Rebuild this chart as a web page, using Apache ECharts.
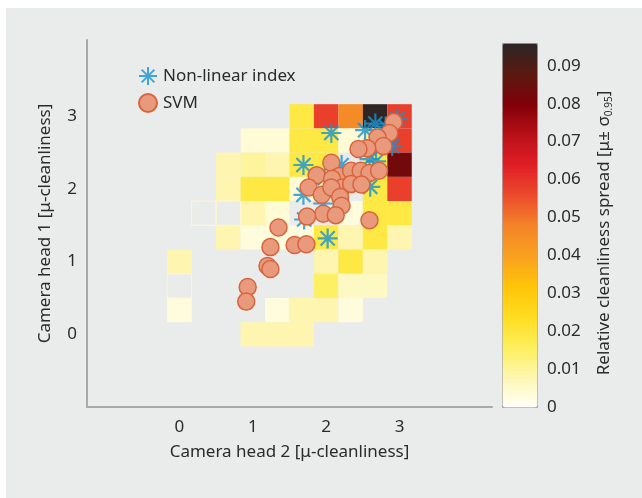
<!DOCTYPE html>
<html>
<head>
<meta charset="utf-8">
<script src="https://cdn.jsdelivr.net/npm/echarts@6/dist/echarts.min.js"></script>
<style>
  html, body { margin: 0; padding: 0; background: #fff; }
  #chart { width: 642px; height: 498px; }
</style>
</head>
<body>
<div id="chart"></div>
<script>
  // heatmap bins are 1/3 wide, centred on multiples of 1/3
  var binSize = 1 / 3;
  var colCentres = [0, 1 / 3, 2 / 3, 1, 4 / 3, 5 / 3, 2, 7 / 3, 8 / 3, 3];
  var rowCentres = [3, 8 / 3, 7 / 3, 2, 5 / 3, 4 / 3, 1, 2 / 3, 1 / 3, 0];

  // relative cleanliness spread per bin, one array per row (top to bottom), null = no data
  var spreadRow300 = [null, null, null, null, null, 0.019, 0.058, 0.046, 0.095, 0.058];
  var spreadRow267 = [null, null, null, 0.004, 0.004, 0.019, 0.019, 0.004, 0.010, 0.058];
  var spreadRow233 = [null, null, 0.008, 0.010, 0.008, 0.019, 0.019, null, 0.019, 0.083];
  var spreadRow200 = [null, null, 0.008, 0.019, 0.019, 0.004, 0.008, null, 0.019, 0.058];
  var spreadRow167 = [null, null, null, 0.008, 0.004, null, null, 0.003, 0.019, 0.019];
  var spreadRow133 = [null, null, 0.008, 0.003, 0.003, 0.003, 0.019, 0.008, 0.019, 0.008];
  var spreadRow100 = [0.008, null, null, null, null, null, 0.008, 0.019, 0.008, null];
  var spreadRow067 = [null, null, null, null, null, null, 0.015, 0.006, 0.006, null];
  var spreadRow033 = [0.003, null, null, null, 0.003, 0.008, 0.008, 0.003, null, null];
  var spreadRow000 = [null, null, null, 0.008, 0.008, 0.008, null, null, null, null];
  var spreadRows = [spreadRow300, spreadRow267, spreadRow233, spreadRow200, spreadRow167,
                    spreadRow133, spreadRow100, spreadRow067, spreadRow033, spreadRow000];

  // bins drawn only as an outline
  var blankCellX = [1 / 3, 2 / 3, 0];
  var blankCellY = [5 / 3, 5 / 3, 2 / 3];

  var nonlinearX = [2.07, 1.69, 2.53, 2.67, 2.97, 2.90, 2.59, 2.68, 2.21, 1.98, 1.69, 1.96, 1.70, 2.02, 2.60, 2.81];
  var nonlinearY = [2.77, 2.33, 2.81, 2.90, 2.96, 2.59, 2.41, 2.38, 2.33, 2.15, 1.92, 1.80, 1.58, 1.32, 2.03, 2.86];

  var svmX = [2.92, 2.86, 2.70, 2.78, 2.56, 2.44, 2.07, 1.87, 2.18, 2.34, 2.47, 2.59, 2.72, 2.08, 2.22, 2.34, 2.48,
              1.76, 1.94, 2.07, 2.19, 2.21, 1.96, 2.13, 1.74, 2.59, 1.35, 1.24, 1.57, 1.73, 1.20, 1.24, 0.93, 0.91];
  var svmY = [2.92, 2.77, 2.71, 2.59, 2.56, 2.55, 2.36, 2.19, 2.18, 2.25, 2.25, 2.22, 2.25, 2.14, 2.02, 2.07, 2.06,
              2.02, 1.92, 2.02, 1.89, 1.77, 1.66, 1.64, 1.62, 1.57, 1.47, 1.20, 1.23, 1.24, 0.94, 0.90, 0.65, 0.45];

  var axisTicks = [0, 1, 2, 3];
  var spreadTicks = [0, 0.01, 0.02, 0.03, 0.04, 0.05, 0.06, 0.07, 0.08, 0.09];
  var spreadMax = 0.096;

  var spreadColours = ['#fffffa', '#fef6b0', '#fdef5a', '#ffdc20', '#ffc408', '#f9a020', '#f38428',
                       '#ec4a2c', '#e01e26', '#b81018', '#800008', '#5a1a10', '#2a2626'];

  var FONT = 'Noto Sans';
  var TXT = '#2b2b2b';

  var cellData = [];
  spreadRows.forEach(function (row, r) {
    row.forEach(function (v, c) {
      if (v != null) cellData.push([colCentres[c], rowCentres[r], v]);
    });
  });
  var blankData = blankCellX.map(function (x, k) { return [x, blankCellY[k]]; });
  var nonlinearData = nonlinearX.map(function (x, k) { return [x, nonlinearY[k]]; });
  var svmData = svmX.map(function (x, k) { return [x, svmY[k]]; });

  function cellRect(api) {
    var x = api.value(0), y = api.value(1);
    var p0 = api.coord([x - binSize / 2, y + binSize / 2]);
    var p1 = api.coord([x + binSize / 2, y - binSize / 2]);
    return { x: p0[0], y: p0[1], width: p1[0] - p0[0], height: p1[1] - p0[1] };
  }

  var starPath = 'path://M10 0L10 20M0 10L20 10M2.93 2.93L17.07 17.07M2.93 17.07L17.07 2.93';

  var chart = echarts.init(document.getElementById('chart'));
  var option = {
    backgroundColor: '#ffffff',
    animation: false,
    textStyle: { fontFamily: FONT, color: TXT },
    graphic: [{
      type: 'rect', left: 6, top: 8, z: -10, silent: true,
      shape: { width: 636, height: 490 },
      style: { fill: '#eaebeb' }
    }],
    grid: [
      { left: 87, top: 40, width: 405, height: 367 },
      { left: 502, top: 43, width: 35, height: 364 }
    ],
    xAxis: [{
      type: 'value', gridIndex: 0, min: -1.26, max: 4.26,
      axisLine: { show: true, onZero: false, lineStyle: { color: '#a9a9a9', width: 2 } },
      axisTick: { show: false },
      splitLine: { show: false },
      axisLabel: { customValues: axisTicks, fontSize: 17, margin: 12, color: TXT, fontFamily: FONT },
      name: 'Camera head 2 [μ-cleanliness]', nameLocation: 'middle', nameGap: 37,
      nameTextStyle: { fontSize: 17, color: TXT, fontFamily: FONT }
    }, {
      type: 'value', gridIndex: 1, show: false, min: 0, max: 1
    }],
    yAxis: [{
      type: 'value', gridIndex: 0, min: -1, max: 4.05,
      axisLine: { show: true, onZero: false, lineStyle: { color: '#a9a9a9', width: 2 } },
      axisTick: { show: false },
      splitLine: { show: false },
      axisLabel: { customValues: axisTicks, fontSize: 17, margin: 10, color: TXT, fontFamily: FONT },
      name: 'Camera head 1 [μ-cleanliness]', nameLocation: 'middle', nameGap: 33,
      nameTextStyle: { fontSize: 17, color: TXT, fontFamily: FONT }
    }, {
      type: 'value', gridIndex: 1, position: 'right', min: 0, max: spreadMax,
      axisLine: { show: false },
      axisTick: { show: false },
      splitLine: { show: false },
      axisLabel: {
        customValues: spreadTicks, fontSize: 17, margin: 10, color: TXT, fontFamily: FONT,
        formatter: function (v) { return v === 0 ? '0' : v.toFixed(2); }
      },
      name: 'Relative cleanliness spread [μ± σ{sub|0.95}]',
      nameLocation: 'middle', nameGap: 58,
      nameTextStyle: {
        fontSize: 17, color: TXT, fontFamily: FONT, padding: [0, 16, 0, 0],
        rich: { sub: { fontSize: 10, color: TXT, fontFamily: FONT, padding: [9, 0, 0, 0] } }
      }
    }],
    visualMap: {
      type: 'continuous', seriesIndex: 0, dimension: 2,
      min: 0, max: spreadMax, calculable: false, hoverLink: false,
      orient: 'vertical', left: 502, top: 43, itemWidth: 35, itemHeight: 364,
      padding: 0, borderColor: '#a0a0a0', borderWidth: 1,
      inRange: { color: spreadColours }
    },
    legend: {
      orient: 'vertical', left: 133, top: 61,
      itemWidth: 20, itemHeight: 18, itemGap: 7,
      selectedMode: false,
      data: ['Non-linear index', 'SVM'],
      textStyle: { fontSize: 17, color: TXT, fontFamily: FONT }
    },
    series: [{
      type: 'custom', name: 'spread', xAxisIndex: 0, yAxisIndex: 0,
      data: cellData, encode: { x: 0, y: 1 }, silent: true, z: 1,
      renderItem: function (params, api) {
        return { type: 'rect', shape: cellRect(api), style: { fill: api.visual('color') } };
      }
    }, {
      type: 'custom', name: 'blank', xAxisIndex: 0, yAxisIndex: 0,
      data: blankData, encode: { x: 0, y: 1 }, silent: true, z: 1,
      renderItem: function (params, api) {
        return { type: 'rect', shape: cellRect(api), style: { fill: 'none', stroke: '#fff7d4', lineWidth: 1 } };
      }
    }, {
      type: 'scatter', name: 'Non-linear index', xAxisIndex: 0, yAxisIndex: 0,
      data: nonlinearData, symbol: starPath, symbolSize: 20, z: 3,
      itemStyle: { color: 'transparent', borderColor: '#1592d4', borderWidth: 2.2 }
    }, {
      type: 'scatter', name: 'SVM', xAxisIndex: 0, yAxisIndex: 0,
      data: svmData, symbol: 'circle', symbolSize: 17, z: 4,
      itemStyle: { color: '#e99a7c', borderColor: '#d9643c', borderWidth: 1.5, opacity: 1 }
    }]
  };
  chart.setOption(option);
</script>
</body>
</html>
